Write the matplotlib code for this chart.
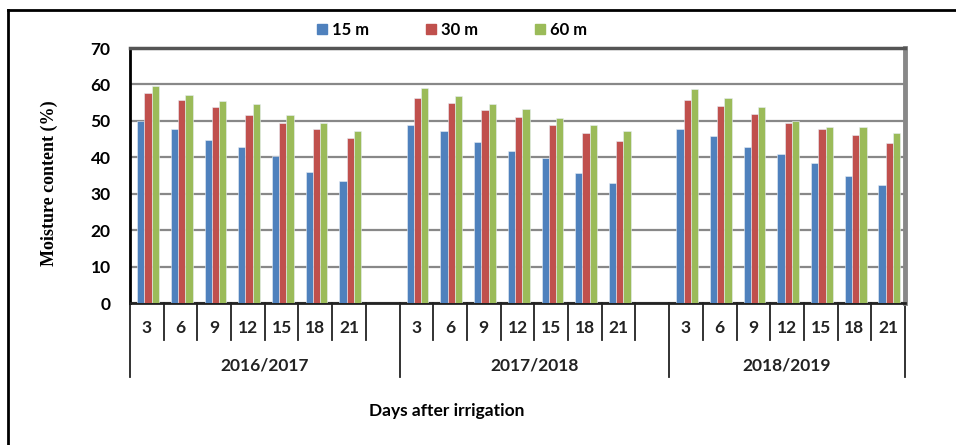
import matplotlib.pyplot as plt
from matplotlib.patches import Patch
from matplotlib.lines import Line2D
import numpy as np

seasons = ["2016/2017", "2017/2018", "2018/2019"]
days = ["3", "6", "9", "12", "15", "18", "21"]
series_names = ["15 m", "30 m", "60 m"]

# moisture content (%) per season, in order of days
m15 = [[50.0, 47.9, 44.7, 42.8, 40.4, 36.0, 33.5],
       [48.9, 47.2, 44.1, 41.8, 39.9, 35.8, 32.9],
       [47.7, 45.9, 42.8, 40.8, 38.3, 34.8, 32.5]]
m30 = [[57.6, 55.8, 53.8, 51.5, 49.4, 47.9, 45.4],
       [56.3, 54.9, 53.0, 51.0, 48.9, 46.6, 44.4],
       [55.8, 54.0, 51.9, 49.4, 47.9, 46.1, 43.9]]
m60 = [[59.6, 57.1, 55.5, 54.5, 51.7, 49.4, 47.2],
       [59.1, 56.8, 54.5, 53.2, 50.9, 48.9, 47.2],
       [58.8, 56.2, 53.8, 49.9, 48.3, 48.2, 46.6]]

colors = ["#4F81BD", "#C0504D", "#9BBB59"]
font = "Lato"

fig = plt.figure(figsize=(9.56, 4.45), dpi=100)
ax = fig.add_axes([130 / 956, 1 - 303 / 445, 775 / 956, 255 / 445])

# slot positions: 8 slots per season (last one empty), last season has 7
slot_pos = []
for g in range(len(seasons)):
    slot_pos.append([g * 8 + i for i in range(len(days))])
n_slots = 8 * (len(seasons) - 1) + len(days)

w = 0.215
offs = [-w + 0.035, 0.035, w + 0.035]
for s, data in enumerate([m15, m30, m60]):
    for g in range(len(seasons)):
        x = np.array(slot_pos[g]) + offs[s]
        ax.bar(x, data[g], width=w, color=colors[s], edgecolor="#e8eef6",
               linewidth=0.4, zorder=3)

ax.set_xlim(-0.5, n_slots - 0.5)
ax.set_ylim(0, 70)
ax.set_yticks(range(0, 71, 10))
ax.yaxis.grid(True, color="#888888", linewidth=1.6, zorder=0)
ax.set_xticks([])
ax.tick_params(axis="y", length=0, pad=14)
for lab in ax.get_yticklabels():
    lab.set_fontfamily(font)
    lab.set_fontweight("bold")
    lab.set_fontsize(12.5)

ax.spines["left"].set_color("black")
ax.spines["left"].set_linewidth(2)
ax.spines["bottom"].set_color("#222222")
ax.spines["bottom"].set_linewidth(2)
ax.spines["top"].set_color("#555555")
ax.spines["top"].set_linewidth(2.5)
ax.spines["right"].set_color("#888888")
ax.spines["right"].set_linewidth(3.5)

# hierarchical category axis
tr = ax.get_xaxis_transform()
for b in range(n_slots + 1):
    x = b - 0.5
    if b in (0, 8, 16, n_slots):
        y_end = -0.29
    else:
        y_end = -0.145
    ax.add_line(Line2D([x, x], [0, y_end], transform=tr, color="#222222",
                       linewidth=1.3, clip_on=False))
for g in range(len(seasons)):
    for i, d in enumerate(days):
        ax.text(slot_pos[g][i], -0.097, d, transform=tr, ha="center",
                va="center", fontsize=12.5, fontweight="bold",
                family=font, color="#222222")
    left = g * 8 - 0.5
    right = min(g * 8 + 8, n_slots) - 0.5
    ax.text((left + right) / 2, -0.245, seasons[g], transform=tr,
            ha="center", va="center", fontsize=12.5, fontweight="bold",
            family=font, color="#222222")

fig.text(447 / 956, 1 - 411 / 445, "Days after irrigation", ha="center",
         va="center", fontsize=12.5, fontweight="bold", family=font)
fig.text(49 / 956, 1 - 183 / 445, "Moisture content (%)", rotation=90,
         ha="center", va="center", fontsize=13, fontweight="bold",
         family="Liberation Serif")

handles = [Patch(color=c) for c in colors]
fig.legend(handles, series_names, loc="center", ncol=3,
           bbox_to_anchor=(452 / 956, 1 - 30 / 445), frameon=False,
           handlelength=0.6, handleheight=0.6, handletextpad=0.3,
           columnspacing=3.4, prop={"family": font, "weight": "bold",
                                    "size": 12})

# outer frame (top and left edges visible)
fig.add_artist(Line2D([8 / 956, 1], [1 - 10 / 445, 1 - 10 / 445],
                      transform=fig.transFigure, color="black", linewidth=2))
fig.add_artist(Line2D([8 / 956, 8 / 956], [0, 1 - 10 / 445],
                      transform=fig.transFigure, color="black", linewidth=2))

fig.savefig("out.png", dpi=100)
